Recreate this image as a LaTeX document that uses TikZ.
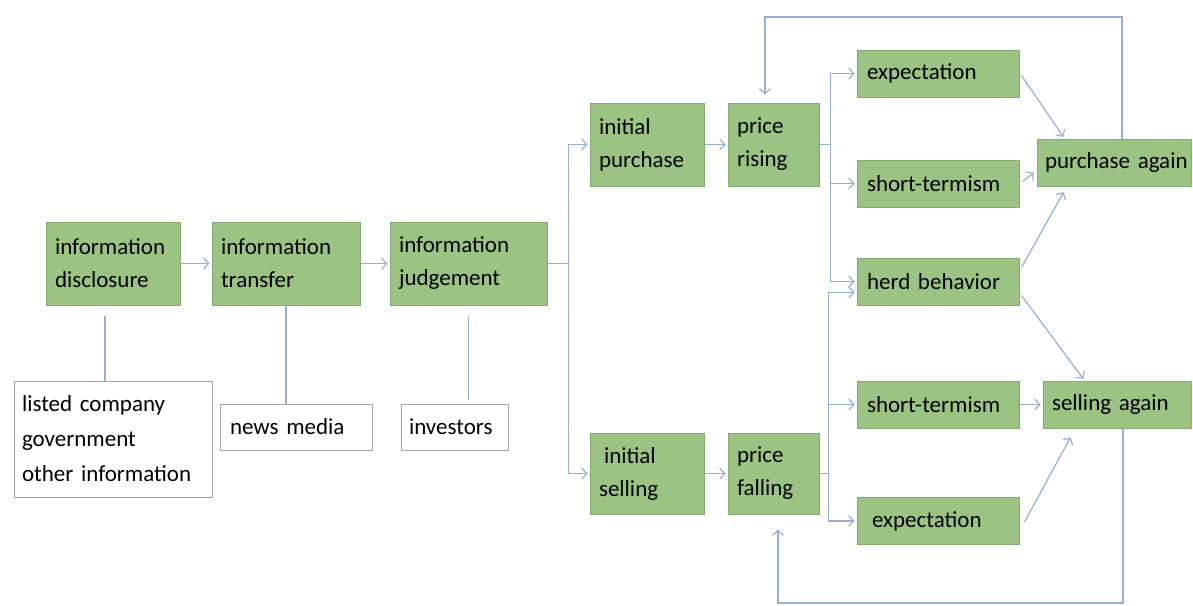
\documentclass[tikz,border=0pt]{standalone}
\usepackage{fontspec}
\setmainfont{Carlito}
\usetikzlibrary{arrows.meta,calc}
\definecolor{boxgreen}{RGB}{155,196,130}
\definecolor{boxedge}{RGB}{132,170,112}
\definecolor{wedge}{RGB}{160,168,155}
\definecolor{connc}{RGB}{150,175,208}
\protected\def\narrowsp{\spaceskip=0.17em plus 0.05em\relax}
\tikzset{
 gbox/.style={draw=boxedge, fill=boxgreen, line width=0.5pt, inner xsep=4.5pt, inner ysep=0pt, align=left, font=\fontsize{11.5}{16.5}\selectfont\narrowsp},
 wbox/.style={draw=wedge, fill=white, line width=0.5pt, inner xsep=4pt, inner ysep=0pt, align=left, font=\fontsize{11.5}{17.5}\selectfont\narrowsp},
 conn/.style={draw=connc, line width=0.6pt},
 arr/.style={conn, shorten >=1pt, -{Straight Barb[length=2.5pt,width=5.5pt]}},
}
\begin{document}
\begin{tikzpicture}[x=0.5pt,y=-0.5pt]
\useasboundingbox (0,0) rectangle (1193,605);
% left chain
\node[gbox, text width=58pt, minimum height=41.5pt] (dis) at (113,263.5) {information\\disclosure};
\node[gbox, text width=65pt, minimum height=41.5pt] (trans) at (286,263.5) {information\\transfer};
\node[gbox, text width=69.5pt, minimum height=41.5pt] (judg) at (468.5,263.5) {information\\judgement};
\node[wbox, text width=91pt, minimum height=58pt] (listed) at (113,439) {listed company\\government\\other information};
\node[wbox, inner xsep=5pt, text width=66pt, minimum height=23pt] (news) at (296,427) {news media};
\node[wbox, text width=45.5pt, minimum height=23pt] (inv) at (454.5,427) {investors};
% middle
\node[gbox, text width=48pt, minimum height=41.5pt] (ipurch) at (647,144.5) {initial\\purchase};
\node[gbox, text width=36.5pt, minimum height=41.5pt] (rising) at (773.5,144.5) {price\\rising};
\node[gbox, text width=48pt, minimum height=40.5pt] (isell) at (647,473.5) {\hspace{2.5pt}initial\\selling};
\node[gbox, text width=36.5pt, minimum height=40.5pt] (falling) at (773.5,473.5) {price\\falling};
% right column
\node[gbox, inner xsep=5pt, text width=71pt, minimum height=23.5pt] (exp1) at (938,73.5) {expectation};
\node[gbox, inner xsep=5pt, text width=71pt, minimum height=23.5pt] (st1) at (938,183.5) {short-termism};
\node[gbox, inner xsep=5pt, text width=71pt, minimum height=23.5pt] (herd) at (938,281.5) {herd behavior};
\node[gbox, inner xsep=5pt, text width=71pt, minimum height=23.5pt] (st2) at (938,404.5) {short-termism};
\node[gbox, inner xsep=5pt, text width=71pt, minimum height=23.5pt] (exp2) at (938,521) {\hspace{2.5pt}expectation};
\node[gbox, inner xsep=4pt, text width=69pt, minimum height=23.5pt] (pagain) at (1114,162.5) {\mbox{purchase again}};
\node[gbox, inner xsep=4.5pt, text width=65pt, minimum height=23.5pt] (sagain) at (1117,404.5) {\mbox{selling again}};
% connectors left
\draw[arr] (dis.east) -- (trans.west);
\draw[arr] (trans.east) -- (judg.west);
\draw[conn] ($(dis.south)+(-8,10)$) -- ($(listed.north)+(-8,0)$);
\draw[conn] (trans.south) -- (trans.south |- news.north);
\draw[conn] ($(judg.south)+(0,10)$) -- ($(judg.south |- inv.north)+(0,-4)$);
\draw[conn] (judg.east) -- ++(21,0) coordinate (jb);
\draw[arr] (jb) |- (ipurch.west);
\draw[arr] (jb) |- (isell.west);
\draw[arr] (ipurch.east) -- (rising.west);
\draw[arr] (isell.east) -- (falling.west);
% rising branch
\draw[conn] (rising.east) -- ++(11,0) coordinate (rb);
\draw[arr] (rb) |- (exp1.west);
\draw[arr] (rb) |- (st1.west);
\draw[arr] (rb) |- (herd.west);
% falling branch
\draw[conn] (falling.east) -- ++(9,0) coordinate (fb);
\draw[arr] (fb) |- ($(herd.west)+(0,11)$);
\draw[arr] (fb) |- (st2.west);
\draw[arr] (fb) |- (exp2.west);
% to purchase again / selling again
\draw[arr] ($(exp1.east)+(2,2)$) -- ($(pagain.north west)+(28,0)$);
\draw[arr] ($(st1.east)+(3,-2)$) -- ($(pagain.west)+(-1,9)$);
\draw[arr] ($(herd.east)+(2,-14)$) -- ($(pagain.south west)+(28,4)$);
\draw[arr] ($(herd.east)+(2,14)$) -- ($(sagain.north west)+(42,0)$);
\draw[arr] (st2.east) -- (sagain.west);
\draw[arr] ($(exp2.east)+(5,1)$) -- ($(sagain.south west)+(29,7)$);
% feedback loops
\coordinate (ftop) at (1122,17);
\draw[arr] (ftop |- pagain.north) -- (ftop) -| ($(rising.north)+(-8.5,-6)$);
\coordinate (fbot) at (1123,603);
\draw[arr] (fbot |- sagain.south) -- (fbot) -| ($(falling.south)+(4.5,13)$);
\end{tikzpicture}
\end{document}
